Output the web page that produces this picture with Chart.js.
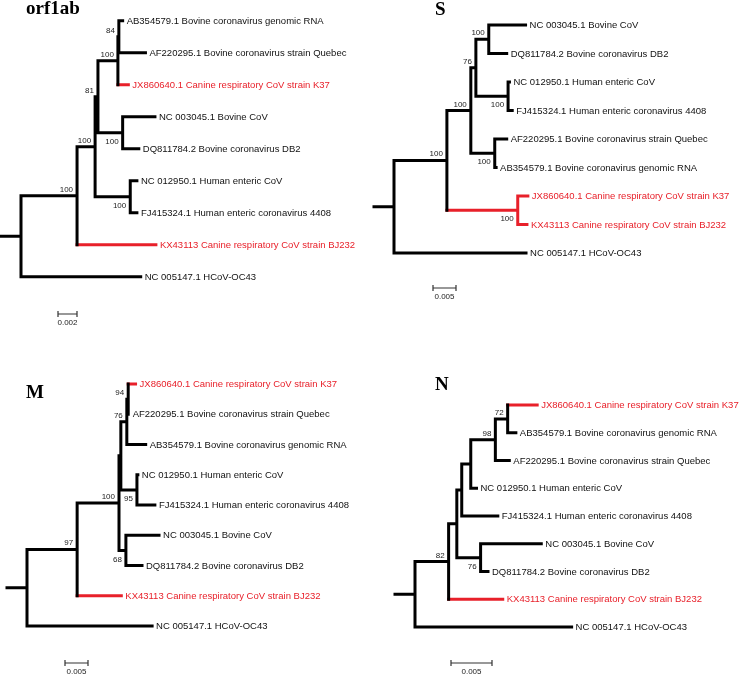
<!DOCTYPE html>
<html>
<head>
<meta charset="utf-8">
<script src="https://cdn.jsdelivr.net/npm/chart.js@4/dist/chart.umd.min.js"></script>
<style>
    body { margin: 0; background: #ffffff; }
    #wrap { position: relative; width: 740px; height: 676px; }
    canvas { position: absolute; }
</style>
</head>
<body>
<div id="wrap">
    <canvas id="orf1abCanvas" width="370" height="330" style="left:0px;top:0px"></canvas>
    <canvas id="sCanvas" width="370" height="330" style="left:370px;top:0px"></canvas>
    <canvas id="mCanvas" width="370" height="346" style="left:0px;top:330px"></canvas>
    <canvas id="nCanvas" width="370" height="346" style="left:370px;top:330px"></canvas>
</div>
<script>
// Leaf keys used in the trees and the labels printed next to them
const leafKeys = ['AB', 'AF', 'JX', 'BCOV', 'DQ', 'HECOV', 'FJ', 'KX', 'OC43'];
const leafLabels = [
    'AB354579.1 Bovine coronavirus genomic RNA',
    'AF220295.1 Bovine coronavirus strain Quebec',
    'JX860640.1 Canine respiratory CoV strain K37',
    'NC 003045.1 Bovine CoV',
    'DQ811784.2 Bovine coronavirus DB2',
    'NC 012950.1 Human enteric CoV',
    'FJ415324.1 Human enteric coronavirus 4408',
    'KX43113 Canine respiratory CoV strain BJ232',
    'NC 005147.1 HCoV-OC43',
];
// canine strains are drawn in red
const canineKeys = ['JX', 'KX'];

const geneNames = ['orf1ab', 'S', 'M', 'N'];

// Newick trees: branch lengths (substitutions/site) and bootstrap values
const orf1abTree = '((((((AB:0.0004,AF:0.0028)84:0.0001,JX:0.0011)100:0.0021,(BCOV:0.0034,DQ:0.0017)100:0.0026)81:0.0003,(HECOV:0.0007,FJ:0.0007)100:0.0037)100:0.0019,KX:0.0083)100:0.0059,OC43:0.0126);';
const sTree = '(((((BCOV:0.0080,DQ:0.0039)100:0.0028,(HECOV:0.0003,FJ:0.0009)100:0.0070)76:0.0011,(AF:0.0026,AB:0.0003)100:0.0052)100:0.0052,(JX:0.0022,KX:0.0020)100:0.0154)100:0.0115,OC43:0.0287);';
const mTree = '((((((JX:0.0016,AF:0.0001)94:0.0003,AB:0.0041)76:0.0013,(HECOV:0.0002,FJ:0.0039)95:0.0035):0.0004,(BCOV:0.0072,DQ:0.0035)68:0.0015)100:0.0091,KX:0.0096)97:0.0109,OC43:0.0272);';
const nTree = '(((((((JX:0.0036,AB:0.0010)72:0.0015,AF:0.0017)98:0.0030,HECOV:0.0007):0.0011,FJ:0.0044):0.0006,(BCOV:0.0074,DQ:0.0009)76:0.0029):0.0010,KX:0.0066)82:0.0041,OC43:0.0191);';

const scaleBarValues = [0.002, 0.005, 0.005, 0.005];

// Layout of each panel (pixels inside its canvas)
let panels = [
    { canvas: 'orf1abCanvas', tree: orf1abTree, rootX: 21, row0: 20.7, rowGap: 32.0, pxPerUnit: 9500, barX: 58, barY: 314, titleX: 26, titleY: 9 },
    { canvas: 'sCanvas', tree: sTree, rootX: 24, row0: 25, rowGap: 28.5, pxPerUnit: 4600, barX: 63, barY: 288, titleX: 65, titleY: 10 },
    { canvas: 'mCanvas', tree: mTree, rootX: 27, row0: 54, rowGap: 30.25, pxPerUnit: 4600, barX: 65, barY: 333, titleX: 26, titleY: 63 },
    { canvas: 'nCanvas', tree: nTree, rootX: 45, row0: 75, rowGap: 27.75, pxPerUnit: 8200, barX: 81, barY: 333, titleX: 65, titleY: 55 },
];

const RED = '#e8202a';

let parseNewick = function(s) {
    let i = 0;
    let readNode = function() {
        let node = { children: [], key: '', support: '', len: 0 };
        if (s[i] === '(') {
            i++;
            node.children.push(readNode());
            while (s[i] === ',') {
                i++;
                node.children.push(readNode());
            }
            i++; // closing bracket
        }
        let label = '';
        while (i < s.length && ':,);'.indexOf(s[i]) < 0) label += s[i++];
        if (node.children.length) node.support = label; else node.key = label;
        if (s[i] === ':') {
            i++;
            let num = '';
            while (i < s.length && ',);'.indexOf(s[i]) < 0) num += s[i++];
            node.len = parseFloat(num);
        }
        return node;
    };
    return readNode();
};

// x = distance from root, y = leaf row; internal nodes sit half way between first and last child
let layoutTree = function(root) {
    let row = 0;
    let leaves = [];
    let inner = [];
    let walk = function(node, x, isLast) {
        node.x = x;
        node.isLast = isLast;
        if (node.children.length === 0) {
            node.y = row++;
            node.red = canineKeys.indexOf(node.key) >= 0;
            leaves.push(node);
            return;
        }
        node.children.forEach((c, k) => walk(c, x + c.len, k === node.children.length - 1));
        let first = node.children[0];
        let last = node.children[node.children.length - 1];
        node.y = (first.y + last.y) / 2;
        node.red = node.children.every(c => c.red);
        inner.push(node);
    };
    walk(root, 0, false);
    return { root: root, leaves: leaves, inner: inner };
};

let buildSegments = function(tree, stub) {
    let black = [];
    let red = [];
    let gap = { x: NaN, y: null };
    black.push({ x: -stub, y: tree.root.y }, { x: 0, y: tree.root.y }, gap);
    for (let node of tree.inner) {
        let first = node.children[0];
        let last = node.children[node.children.length - 1];
        let target = node.red ? red : black;
        target.push({ x: node.x, y: first.y }, { x: node.x, y: last.y }, gap);
        for (let c of node.children) {
            let t = c.red ? red : black;
            t.push({ x: node.x, y: c.y }, { x: c.x, y: c.y }, gap);
        }
    }
    return { black: black, red: red };
};

let treeTextPlugin = function(panel, tree, title, barValue) {
    return {
        id: 'treeText',
        afterDatasetsDraw: function(chart) {
            let ctx = chart.ctx;
            let xs = chart.scales.x;
            let ys = chart.scales.y;
            ctx.save();

            // tip labels
            ctx.font = '9.5px "Liberation Sans", Arial, sans-serif';
            ctx.textAlign = 'left';
            ctx.textBaseline = 'middle';
            for (let leaf of tree.leaves) {
                ctx.fillStyle = leaf.red ? RED : '#111111';
                let label = leafLabels[leafKeys.indexOf(leaf.key)];
                ctx.fillText(label, xs.getPixelForValue(leaf.x) + 4, ys.getPixelForValue(leaf.y) + 0.5);
            }

            // bootstrap values
            ctx.font = '8px "Liberation Sans", Arial, sans-serif';
            ctx.fillStyle = '#222222';
            ctx.textAlign = 'right';
            for (let node of tree.inner) {
                if (!node.support) continue;
                let px = xs.getPixelForValue(node.x) - 4;
                let py = ys.getPixelForValue(node.y);
                if (node.isLast) {
                    ctx.textBaseline = 'top';
                    ctx.fillText(node.support, px, py + 5);
                } else {
                    ctx.textBaseline = 'alphabetic';
                    ctx.fillText(node.support, px, py - 4);
                }
            }

            // scale bar
            let barLen = xs.getPixelForValue(barValue) - xs.getPixelForValue(0);
            ctx.strokeStyle = '#333333';
            ctx.lineWidth = 1.2;
            ctx.beginPath();
            ctx.moveTo(panel.barX, panel.barY);
            ctx.lineTo(panel.barX + barLen, panel.barY);
            ctx.moveTo(panel.barX, panel.barY - 3);
            ctx.lineTo(panel.barX, panel.barY + 3);
            ctx.moveTo(panel.barX + barLen, panel.barY - 3);
            ctx.lineTo(panel.barX + barLen, panel.barY + 3);
            ctx.stroke();
            ctx.textAlign = 'center';
            ctx.textBaseline = 'top';
            ctx.fillStyle = '#222222';
            ctx.fillText(String(barValue), panel.barX + barLen / 2, panel.barY + 5);

            // panel title
            ctx.font = 'bold 19px "Liberation Serif", "Times New Roman", serif';
            ctx.fillStyle = '#000000';
            ctx.textAlign = 'left';
            ctx.textBaseline = 'middle';
            ctx.fillText(title, panel.titleX, panel.titleY);

            ctx.restore();
        }
    };
};

let createPanel = function(panel, idx) {
    let canvas = document.getElementById(panel.canvas);
    let tree = layoutTree(parseNewick(panel.tree));
    let segs = buildSegments(tree, 20 / panel.pxPerUnit);

    let xMin = -panel.rootX / panel.pxPerUnit;
    let yMin = -panel.row0 / panel.rowGap;

    return new Chart(canvas, {
        type: 'scatter',
        data: {
            datasets: [
                { data: segs.black, showLine: true, borderColor: '#000000', borderWidth: 3, borderCapStyle: 'square', borderJoinStyle: 'miter', pointRadius: 0, spanGaps: false },
                { data: segs.red, showLine: true, borderColor: RED, borderWidth: 3, borderCapStyle: 'square', borderJoinStyle: 'miter', pointRadius: 0, spanGaps: false },
            ]
        },
        options: {
            responsive: false,
            animation: false,
            layout: { padding: 0 },
            plugins: {
                legend: { display: false },
                tooltip: { enabled: false },
            },
            scales: {
                x: { type: 'linear', display: false, min: xMin, max: xMin + canvas.width / panel.pxPerUnit },
                y: { type: 'linear', display: false, reverse: true, min: yMin, max: yMin + canvas.height / panel.rowGap },
            }
        },
        plugins: [treeTextPlugin(panel, tree, geneNames[idx], scaleBarValues[idx])]
    });
};

let main = function() {
    panels.forEach(createPanel);
};

main();
</script>
</body>
</html>
